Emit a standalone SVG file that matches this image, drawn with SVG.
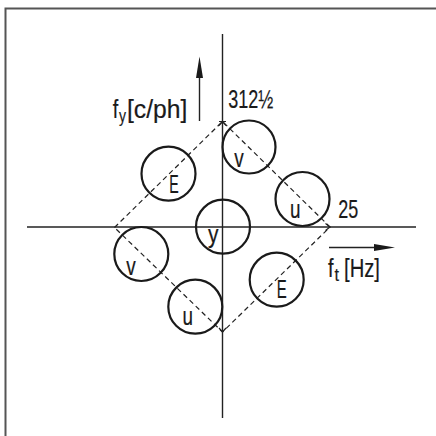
<svg xmlns="http://www.w3.org/2000/svg" width="436" height="436" viewBox="0 0 436 436">
<defs>
<style>
.frame{fill:none;stroke:#555;stroke-width:2}
.axis{fill:none;stroke:#222;stroke-width:1.4}
.dash{fill:none;stroke:#222;stroke-width:1.2;stroke-dasharray:5 3.5}
.ring{fill:none;stroke:#1a1a1a;stroke-width:2.2}
.tick{fill:none;stroke:#222;stroke-width:1.2}
.t{font-family:"Liberation Sans",Arial,sans-serif;font-size:25px;fill:#1a1a1a;stroke:#1a1a1a;stroke-width:0.2}
.s{font-family:"Liberation Sans",Arial,sans-serif;font-size:19px;fill:#1a1a1a;stroke:#1a1a1a;stroke-width:0.2}
.c{font-family:"Liberation Sans",Arial,sans-serif;font-size:25px;fill:#1a1a1a;stroke:#1a1a1a;stroke-width:0.2;text-anchor:middle}
.head{fill:#1a1a1a;stroke:none}
</style>
</defs>
<rect width="436" height="436" fill="#fff"/>
<g id="frame">
<path class="frame" d="M5.5 436 V8.5 H436"/>
</g>
<g id="axes">
<line class="axis" x1="222.5" y1="34" x2="222.5" y2="418"/>
<line class="axis" x1="27" y1="227" x2="416" y2="227"/>
<line class="axis" x1="199.5" y1="121" x2="199.5" y2="70"/>
<polygon class="head" points="199.5,56.5 203,78 196,78"/>
<line class="axis" x1="329" y1="247.5" x2="380" y2="247.5"/>
<polygon class="head" points="395,247.5 374,244 374,251"/>
</g>
<g id="connectors">
<path class="dash" d="M114.5 227.5 L222.5 121.5 L330 227 L222.5 332 Z"/>
<path class="tick" d="M219 125.5 L222.5 121.5 L226 125.5 M219 121.5 H226"/>
<path class="tick" d="M325.5 223.5 L330 227 L325.5 230.5"/>
<path class="tick" d="M219 328 L222.5 332 L226 328"/>
</g>
<g id="node-E1">
<circle class="ring" cx="168.5" cy="173.7" r="27"/>
<text class="c" x="174" y="193" textLength="9.5" lengthAdjust="spacingAndGlyphs">E</text>
</g>
<g id="node-v1">
<circle class="ring" cx="249" cy="147" r="26.5"/>
<text class="c" x="239" y="166.7" textLength="9.5" lengthAdjust="spacingAndGlyphs">v</text>
</g>
<g id="node-u1">
<circle class="ring" cx="302.5" cy="199" r="27"/>
<text class="c" x="295.3" y="218" textLength="10.5" lengthAdjust="spacingAndGlyphs">u</text>
</g>
<g id="node-y">
<circle class="ring" cx="223" cy="226.7" r="27"/>
<text class="c" x="213.3" y="243" textLength="10.5" lengthAdjust="spacingAndGlyphs">y</text>
</g>
<g id="node-v2">
<circle class="ring" cx="141.3" cy="254" r="27"/>
<text class="c" x="131" y="275" textLength="9.5" lengthAdjust="spacingAndGlyphs">v</text>
</g>
<g id="node-u2">
<circle class="ring" cx="195.3" cy="306.7" r="27"/>
<text class="c" x="187.7" y="325" textLength="10.5" lengthAdjust="spacingAndGlyphs">u</text>
</g>
<g id="node-E2">
<circle class="ring" cx="276.7" cy="279.7" r="27"/>
<text class="c" x="281.7" y="298" textLength="10" lengthAdjust="spacingAndGlyphs">E</text>
</g>
<g id="labels">
<text class="t" x="112.7" y="118" textLength="5.5" lengthAdjust="spacingAndGlyphs">f</text>
<text class="s" x="119" y="122" textLength="7" lengthAdjust="spacingAndGlyphs">y</text>
<text class="t" x="127" y="118" textLength="60.3" lengthAdjust="spacingAndGlyphs">[c/ph]</text>
<text class="t" x="228.3" y="107.7" textLength="45" lengthAdjust="spacingAndGlyphs">312½</text>
<text class="t" x="338.3" y="217.5" textLength="20" lengthAdjust="spacingAndGlyphs">25</text>
<text class="t" x="328" y="276.7" textLength="5.5" lengthAdjust="spacingAndGlyphs">f</text>
<text class="s" x="334.5" y="281" textLength="4.5" lengthAdjust="spacingAndGlyphs">t</text>
<text class="t" x="344" y="276.7" textLength="36" lengthAdjust="spacingAndGlyphs">[Hz]</text>
</g>
</svg>
